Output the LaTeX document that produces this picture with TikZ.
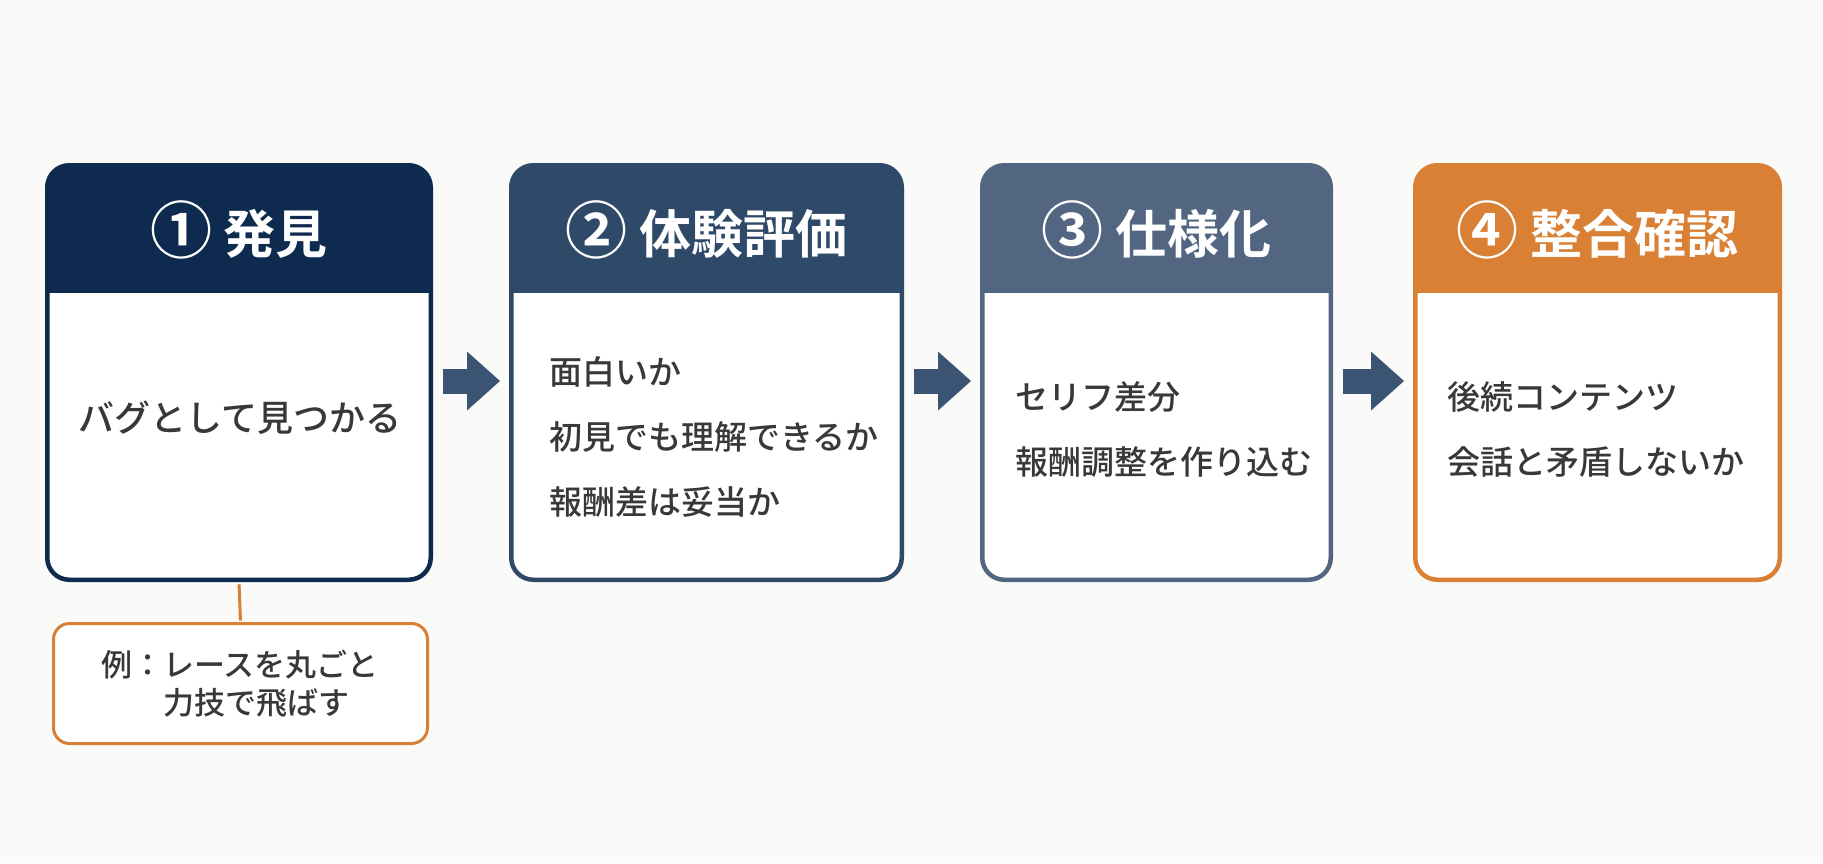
\documentclass[tikz,border=0pt]{standalone}
\usepackage{fontspec}
\setmainfont{Noto Sans CJK JP Medium}[BoldFont=Noto Sans CJK JP Bold]
\usepackage{tikz}
\usetikzlibrary{arrows.meta,positioning}

\definecolor{hakken}{HTML}{0E2A4E}
\definecolor{hyouka}{HTML}{2F4A69}
\definecolor{shiyou}{HTML}{526581}
\definecolor{seigou}{HTML}{D98034}
\definecolor{yajirushi}{HTML}{3C5474}
\definecolor{moji}{HTML}{383838}
\definecolor{haikei}{HTML}{FAFAF8}

\tikzset{
  stepbox/.style={draw=#1, fill=white, line width=4.5pt, rounded corners=22pt,
    minimum height=414.5pt,
    path picture={\fill[#1, sharp corners] (path picture bounding box.north west) rectangle
      ([yshift=-128pt]path picture bounding box.north east);}},
  steptitle/.style={text=white, font=\fontsize{52}{60}\selectfont\bfseries},
  stepbody/.style={text=moji, font=\fontsize{33}{65}\selectfont, align=left, inner sep=0pt},
  flow/.style={yajirushi, line width=25pt, shorten <=10pt, shorten >=9pt,
    -{Triangle[length=33pt,width=59pt,line width=0pt]}},
  notebox/.style={draw=seigou, line width=3pt, rounded corners=16pt, fill=white,
    minimum width=374pt, minimum height=120pt, text=moji,
    font=\fontsize{31}{38}\selectfont, align=left}
}
\newcommand{\maru}[1]{{\fontsize{62}{60}\selectfont #1}}

\begin{document}
\begin{tikzpicture}[x=1pt,y=-1pt]
   %fondo
   \useasboundingbox (0,0) rectangle (1823,863);
   \fill[haikei] (0,0) rectangle (1823,863);
   %cajas
   \node[stepbox=hakken, minimum width=383.5pt] (box1) at (239,372.5) {};
   \node[stepbox=hyouka, minimum width=390.5pt] (box2) at (706.5,372.5) {};
   \node[stepbox=shiyou, minimum width=348.5pt] (box3) at (1156.5,372.5) {};
   \node[stepbox=seigou, minimum width=364.5pt] (box4) at (1597.5,372.5) {};
   %titulos
   \node[steptitle] (t1) at ([yshift=-67pt]box1.north) {\maru{①} 発見};
   \node[steptitle] (t2) at ([yshift=-67pt]box2.north) {\maru{②} 体験評価};
   \node[steptitle] (t3) at ([yshift=-67pt]box3.north) {\maru{③} 仕様化};
   \node[steptitle] (t4) at ([yshift=-67pt]box4.north) {\maru{④} 整合確認};
   %textos
   \node[stepbody, font=\fontsize{36}{65}\selectfont] (b1) at (240,418) {バグとして見つかる};
   \node[stepbody, anchor=west] (b2) at (549,437) {面白いか\\初見でも理解できるか\\報酬差は妥当か};
   \node[stepbody, anchor=west] (b3) at (1015,430) {セリフ差分\\報酬調整を作り込む};
   \node[stepbody, anchor=west] (b4) at (1447,429) {後続コンテンツ\\会話と矛盾しないか};
   %flechas
   \draw[flow] ([yshift=-8.5pt]box1.east) -- ([yshift=-8.5pt]box2.west);
   \draw[flow] ([yshift=-8.5pt]box2.east) -- ([yshift=-8.5pt]box3.west);
   \draw[flow] ([yshift=-8.5pt]box3.east) -- ([yshift=-8.5pt]box4.west);
   %ejemplo
   \node[notebox] (ej) at (240.5,683.5) {\raisebox{-7pt}{\parbox{9em}{例：レースを丸ごと\\\hspace*{2em}力技で飛ばす}}};
   \draw[seigou, line width=3pt, shorten <=2.25pt, shorten >=1.5pt] (box1.south) -- (ej.north);
\end{tikzpicture}
\end{document}
